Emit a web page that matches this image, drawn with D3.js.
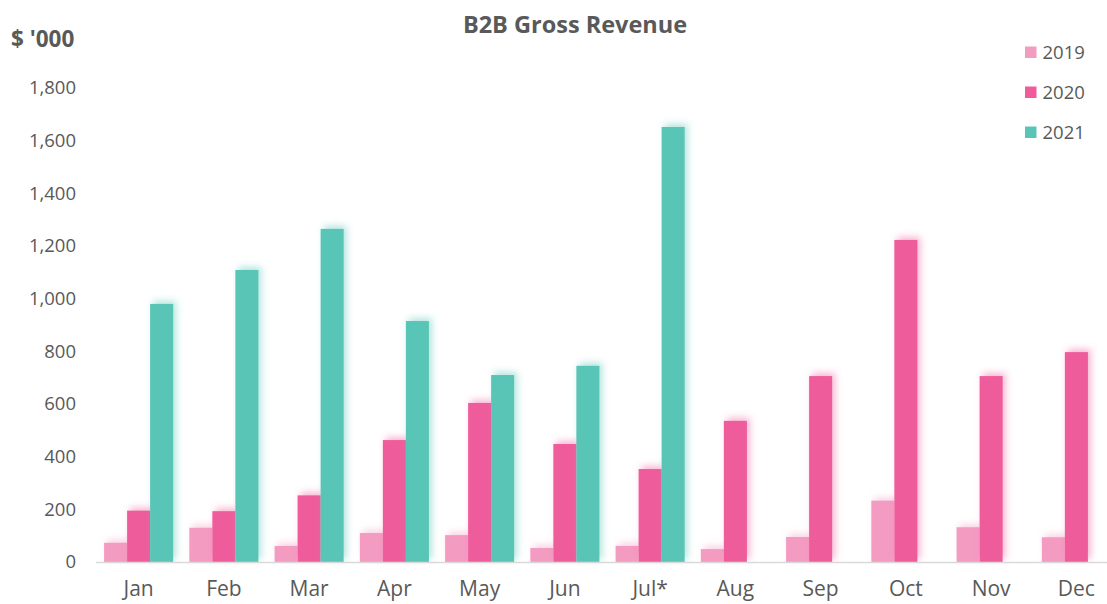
<!DOCTYPE html>
<html><head><meta charset="utf-8">
<script src="https://cdn.jsdelivr.net/npm/d3@7"></script>
<style>
html,body{margin:0;padding:0;background:#fff;}
svg{display:block;font-family:"Open Sans",sans-serif;}
</style></head>
<body>
<svg id="chart" width="1107" height="604"></svg>
<script>
const months = ["Jan","Feb","Mar","Apr","May","Jun","Jul*","Aug","Sep","Oct","Nov","Dec"];
const seriesNames = ["2019","2020","2021"];
const values2019 = [73,130,61,110,102,53,61,49,95,233,132,94];
const values2020 = [195,193,253,463,604,448,353,536,706,1223,706,797];
const values2021 = [980,1109,1265,915,710,745,1652,null,null,null,null,null];
const yTicks = [0,200,400,600,800,1000,1200,1400,1600,1800];
const colors = ["#F49BC2","#EF5B9B","#59C5B6"];

const allSeries = [values2019, values2020, values2021];
const svg = d3.select("#chart");
const textColor = "#595959";
const ff = "'Open Sans',sans-serif";

const x = d3.scaleBand().domain(months).range([96,1119]).paddingInner(0.19).paddingOuter(0.095);
const xs = d3.scaleBand().domain(seriesNames).range([0, x.bandwidth()]);
const y = d3.scaleLinear().domain([0,1800]).range([562,88]);

const defs = svg.append("defs");
colors.forEach((c,i)=>{
  const f = defs.append("filter").attr("id","glow"+i).attr("x","-60%").attr("y","-20%").attr("width","220%").attr("height","140%");
  f.append("feGaussianBlur").attr("in","SourceAlpha").attr("stdDeviation",3.5).attr("result","b");
  f.append("feOffset").attr("in","b").attr("dx",3).attr("dy",-3).attr("result","o");
  f.append("feFlood").attr("flood-color",c).attr("flood-opacity",0.45).attr("result","fl");
  f.append("feComposite").attr("in","fl").attr("in2","o").attr("operator","in").attr("result","s");
  const m = f.append("feMerge");
  m.append("feMergeNode").attr("in","s");
  m.append("feMergeNode").attr("in","SourceGraphic");
});

// title
svg.append("text").attr("x",575).attr("y",33).attr("text-anchor","middle")
  .attr("font-size",23.5).attr("font-weight","bold").attr("fill",textColor).text("B2B Gross Revenue");
svg.append("text").attr("x",11).attr("y",47).attr("font-size",22.5).attr("font-weight","bold")
  .attr("fill",textColor).text("$ '000");

// y axis
const yAxis = d3.axisLeft(y).tickValues(yTicks).tickFormat(d3.format(",")).tickSize(0).tickPadding(0);
const yg = svg.append("g").attr("transform","translate(76,0)").call(yAxis);
yg.select(".domain").remove();
yg.selectAll("text").attr("font-size",18.5).attr("fill",textColor).attr("font-family",ff);

// bars
const groups = svg.append("g").selectAll("g").data(seriesNames).join("g")
  .attr("fill",(d,i)=>colors[i]).attr("filter",(d,i)=>`url(#glow${i})`);
groups.each(function(s,si){
  const data = months.map((m,mi)=>({m, v: allSeries[si][mi]})).filter(d=>d.v!=null);
  d3.select(this).selectAll("rect").data(data).join("rect")
    .attr("x",d=>x(d.m)+xs(s))
    .attr("width",xs.bandwidth())
    .attr("y",d=>y(d.v))
    .attr("height",d=>y(0)-y(d.v));
});

// x axis
const xAxis = d3.axisBottom(x).tickSize(0).tickPadding(19);
const xg = svg.append("g").attr("transform",`translate(0,${y(0)})`).call(xAxis);
xg.select(".domain").attr("stroke","#d9d9d9").attr("stroke-width",1.5).attr("d","M96,0.5H1107");
xg.selectAll("text").attr("font-size",21).attr("fill",textColor).attr("font-family",ff);

// legend
const lg = svg.append("g").selectAll("g").data(seriesNames).join("g")
  .attr("transform",(d,i)=>`translate(1025,${46.5+i*40})`);
lg.append("rect").attr("width",11.5).attr("height",11.5).attr("fill",(d,i)=>colors[i]);
lg.append("text").attr("x",17.5).attr("y",12).attr("font-size",18.5).attr("fill",textColor).text(d=>d);
</script>
</body></html>
